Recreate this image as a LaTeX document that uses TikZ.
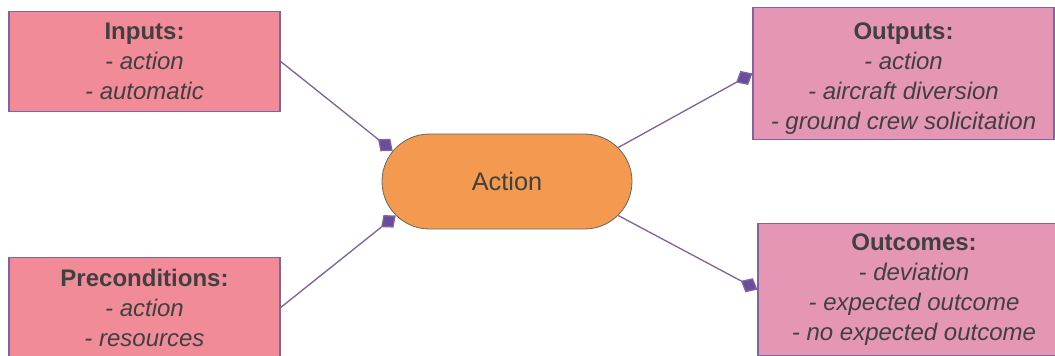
\documentclass[tikz,border=0pt]{standalone}
\usepackage{fontspec}
\setmainfont{Liberation Sans}
\usepackage{xcolor}
\usepackage{tikz}
\usetikzlibrary{arrows.meta,positioning,shapes.misc}

\definecolor{boxred}{RGB}{242,139,152}
\definecolor{boxpink}{RGB}{230,150,181}
\definecolor{boxline}{RGB}{128,100,160}
\definecolor{tipfill}{RGB}{106,76,156}
\definecolor{actfill}{RGB}{243,154,80}
\definecolor{txtgray}{RGB}{64,64,64}

\begin{document}
\begin{tikzpicture}[
      box_in/.style={
         rectangle,
         draw=boxline,
         fill=boxred,
         line width=0.9pt,
         text=txtgray,
         align=center,
         inner sep=0pt,
         minimum width=203.25pt,
         minimum height=75pt,
         font=\fontsize{18}{22.5}\selectfont},
       box_out/.style={
         box_in,
         fill=boxpink,
         minimum width=225.75pt,
         minimum height=99pt},
       action_node/.style={
         rounded rectangle,
         draw=black!60,
         fill=actfill,
         line width=0.6pt,
         text=txtgray,
         inner sep=0pt,
         minimum width=187.5pt,
         minimum height=71.25pt,
         font=\fontsize{19}{23}\selectfont},
       arrow_link/.style={
         -{Diamond[length=14pt,width=12pt,fill=tipfill]},
         draw=boxline,
         line width=1pt,
        }
]
      \useasboundingbox (-380.25pt,-130.125pt) rectangle (411pt,136.125pt);

      %centre
      \node[action_node] (act) {Action};

      %left side
      \node[box_in,above left=52.125pt and 75.75pt of act.west] (inp)
         {\textbf{Inputs:}\\\textit{- action}\\\textit{- automatic}};
      \node[box_in,below left=56.625pt and 75.75pt of act.west] (pre)
         {\textbf{Preconditions:}\\\textit{- action}\\\textit{- resources}};

      %right side
      \node[box_out,above right=31.125pt and 90pt of act.east] (out)
         {\rule{0pt}{21pt}\textbf{Outputs:}\\\textit{- action}\\\textit{- aircraft diversion}\\\textit{- ground crew solicitation}};
      \node[box_out,below right=31.125pt and 93.75pt of act.east,minimum width=234pt] (outc)
         {\textbf{Outcomes:}\\\textit{- deviation}\\\textit{- expected outcome}\\\textit{- no expected outcome}};

    \foreach \i/\j in {% start node/end node
      inp.east/act.165,
      pre.east/act.197,
      act.17/out.west,
      act.-17/outc.west}
    \draw [arrow_link] (\i) -- (\j);

\end{tikzpicture}
\end{document}
